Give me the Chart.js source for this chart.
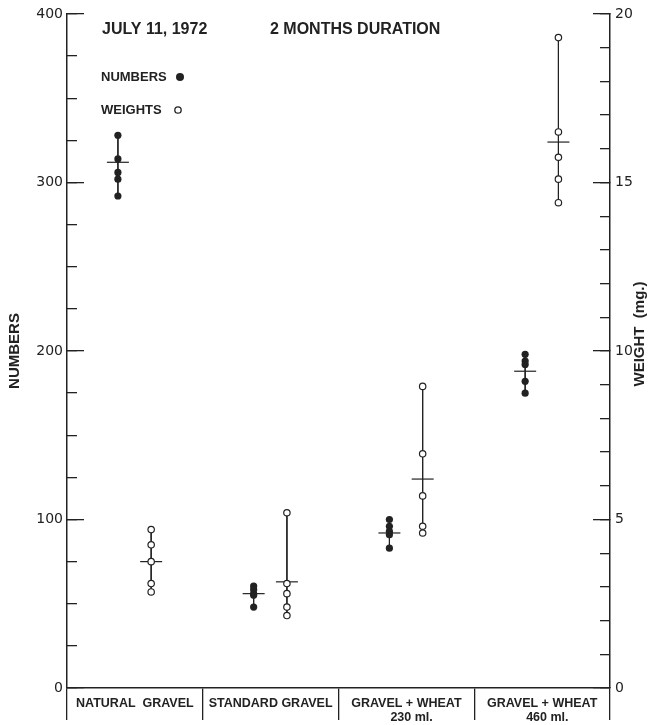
<!DOCTYPE html>
<html>
<head>
<meta charset="utf-8">
<script src="https://cdn.jsdelivr.net/npm/chart.js@4.4.1/dist/chart.umd.min.js"></script>
<style>
  html, body { margin: 0; padding: 0; background: #fff; }
  #wrap { width: 651px; height: 725px; }
</style>
</head>
<body>
<div id="wrap"><canvas id="plot"></canvas></div>
<script>
// categories along the bottom
var categories = [['NATURAL  GRAVEL'], ['STANDARD GRAVEL'], ['GRAVEL + WHEAT', '   230 ml.'], ['GRAVEL + WHEAT', '   460 ml.']];

// replicate counts (left axis)
var numbersNatural = [328, 314, 306, 302, 292];
var numbersStandard = [60.5, 58.5, 56, 55, 48];
var numbersWheat230 = [100, 96, 93, 91, 83];
var numbersWheat460 = [198, 194, 192, 182, 175];
var numbersMean = [312, 56, 92, 188];

// replicate weights in mg (right axis)
var weightsNatural = [4.7, 4.25, 3.75, 3.1, 2.85];
var weightsStandard = [5.2, 3.1, 2.8, 2.4, 2.15];
var weightsWheat230 = [8.95, 6.95, 5.7, 4.8, 4.6];
var weightsWheat460 = [19.3, 16.5, 15.75, 15.1, 14.4];
var weightsMean = [3.75, 3.15, 6.2, 16.2];

// tick labels
var numberTicks = [0, 100, 200, 300, 400];
var weightTicks = [0, 5, 10, 15, 20];

var dateText = 'JULY 11, 1972';
var durationText = '2 MONTHS DURATION';

var ink = '#222';
var numberGroups = [numbersNatural, numbersStandard, numbersWheat230, numbersWheat460];
var weightGroups = [weightsNatural, weightsStandard, weightsWheat230, weightsWheat460];
var numberShift = -0.125, weightShift = 0.12;

var datasets = [];
numberGroups.forEach(function (vals, i) {
    datasets.push({
        type: 'scatter', label: 'NUMBERS', xAxisID: 'x', yAxisID: 'y',
        data: vals.map(function (v) { return { x: i + numberShift, y: v }; }),
        showLine: true, borderColor: ink, borderWidth: 1,
        pointRadius: 3.6, pointBorderWidth: 0, pointBackgroundColor: ink
    });
});
weightGroups.forEach(function (vals, i) {
    datasets.push({
        type: 'scatter', label: 'WEIGHTS', xAxisID: 'x', yAxisID: 'y2',
        data: vals.map(function (v) { return { x: i + weightShift, y: v }; }),
        showLine: true, borderColor: ink, borderWidth: 1,
        pointRadius: 3.2, pointBorderWidth: 1.2, pointBorderColor: ink, pointBackgroundColor: '#fff'
    });
});
// mean cross bars
datasets.push({
    type: 'scatter', label: 'mean numbers', xAxisID: 'x', yAxisID: 'y',
    data: numbersMean.map(function (v, i) { return { x: i + numberShift, y: v }; }),
    pointStyle: 'line', pointRadius: 11, pointBorderWidth: 1.2, pointBorderColor: ink
});
datasets.push({
    type: 'scatter', label: 'mean weights', xAxisID: 'x', yAxisID: 'y2',
    data: weightsMean.map(function (v, i) { return { x: i + weightShift, y: v }; }),
    pointStyle: 'line', pointRadius: 11, pointBorderWidth: 1.2, pointBorderColor: ink
});

var annotations = {
    id: 'annotations',
    afterDraw: function (chart) {
        var ctx = chart.ctx, a = chart.chartArea;
        ctx.save();
        ctx.fillStyle = ink;
        ctx.strokeStyle = ink;
        ctx.textBaseline = 'middle';
        ctx.font = 'bold 16px "Liberation Sans"';
        ctx.fillText(dateText, a.left + 35, a.top + 16);
        ctx.fillText(durationText, a.left + 203, a.top + 16);
        ctx.font = 'bold 13px "Liberation Sans"';
        ctx.fillText('NUMBERS', a.left + 34, a.top + 63);
        ctx.fillText('WEIGHTS', a.left + 34, a.top + 96);
        ctx.beginPath();
        ctx.arc(a.left + 113, a.top + 63, 4, 0, 2 * Math.PI);
        ctx.fill();
        ctx.beginPath();
        ctx.lineWidth = 1.3;
        ctx.arc(a.left + 111, a.top + 96, 3.2, 0, 2 * Math.PI);
        ctx.stroke();
        // right axis title reads bottom to top
        ctx.translate(a.right + 30, 334);
        ctx.rotate(-Math.PI / 2);
        ctx.textAlign = 'center';
        ctx.font = 'bold 15px "Liberation Sans"';
        ctx.fillText('WEIGHT  (mg.)', 0, 0);
        ctx.restore();
    }
};

var tickFont = { family: '"DejaVu Sans"', size: 14 };

// the label padding is only there to pull labels back past the inward ticks,
// so keep it from also pushing the plot down
function trimPadding(s) { s.paddingTop = 0; s.paddingBottom = 0; }

var chart = new Chart(document.getElementById('plot').getContext('2d'), {
    type: 'scatter',
    data: { datasets: datasets },
    plugins: [annotations],
    options: {
        responsive: true,
        maintainAspectRatio: false,
        animation: false,
        layout: { padding: { top: 14 } },
        plugins: { legend: { display: false }, tooltip: { enabled: false } },
        scales: {
            x: { type: 'linear', display: false, min: -0.5, max: 3.5 },
            xc: {
                type: 'category', position: 'bottom', labels: categories, offset: true,
                grid: { offset: true, drawOnChartArea: false, tickLength: 32, color: ink, lineWidth: 1.3 },
                border: { display: true, color: ink, width: 1.5 },
                ticks: { padding: -24, color: ink, maxRotation: 0, autoSkip: false,
                         font: { family: '"Liberation Sans"', size: 12.5, weight: 'bold', lineHeight: 1.15 } },
                afterFit: function (s) { s.height = 37; }
            },
            y: {
                position: 'left', min: 0, max: 400,
                afterBuildTicks: function (s) { s.ticks = numberTicks.map(function (v) { return { value: v }; }); },
                grid: { drawOnChartArea: false, tickLength: -17, color: ink, lineWidth: 1.3 },
                border: { color: ink, width: 1.5 },
                ticks: { padding: 21, color: ink, font: tickFont },
                title: { display: true, text: 'NUMBERS', color: ink, padding: { top: 6, bottom: 0 },
                         font: { family: '"Liberation Sans"', size: 15, weight: 'bold' } },
                afterFit: function (s) { s.width = 67; trimPadding(s); }
            },
            yMinor: {
                position: { x: -0.5 }, min: 0, max: 400,
                ticks: { display: false, stepSize: 25 },
                grid: { drawOnChartArea: false, tickLength: -10, color: ink, lineWidth: 1.3 },
                border: { display: false }
            },
            y2: {
                position: 'right', min: 0, max: 20,
                afterBuildTicks: function (s) { s.ticks = weightTicks.map(function (v) { return { value: v }; }); },
                grid: { drawOnChartArea: false, tickLength: -17, color: ink, lineWidth: 1.3 },
                border: { color: ink, width: 1.5 },
                ticks: { padding: 22, color: ink, font: tickFont },
                afterFit: function (s) { s.width = 41; trimPadding(s); }
            },
            y2Minor: {
                position: { x: 3.5 }, min: 0, max: 20,
                ticks: { display: false, stepSize: 1 },
                grid: { drawOnChartArea: false, tickLength: 10, color: ink, lineWidth: 1.3 },
                border: { display: false }
            }
        }
    }
});
</script>
</body>
</html>
